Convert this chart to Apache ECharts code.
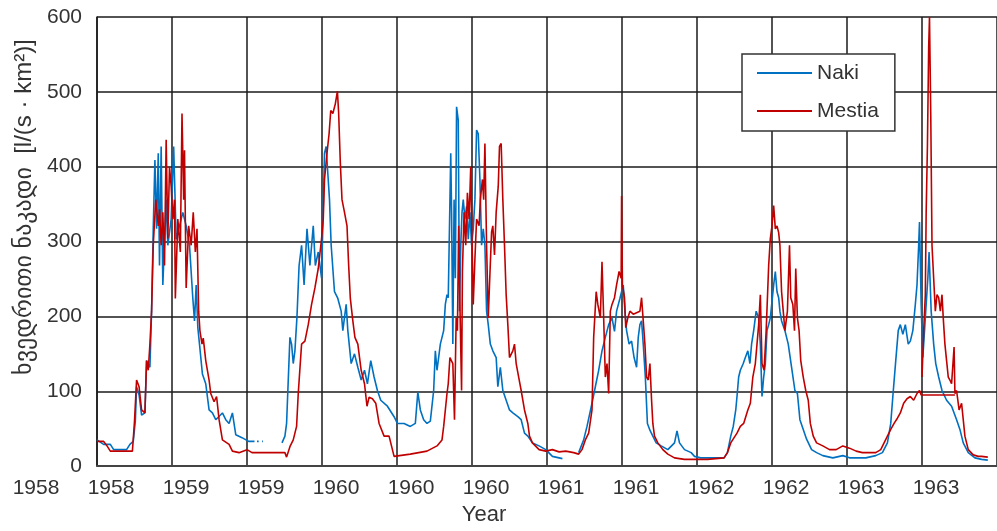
<!DOCTYPE html>
<html>
<head>
<meta charset="utf-8">
<script src="https://cdn.jsdelivr.net/npm/echarts@6/dist/echarts.min.js"></script>
<style>
html,body{margin:0;padding:0;background:#fff;}
#chart{width:997px;height:531px;}
</style>
</head>
<body>
<div id="chart"></div>
<script>
// x = days since start of record (1958), tick every 180 days
const xTickLabels = ['1958','1958','1959','1959','1960','1960','1960','1961','1961','1962','1962','1963','1963'];
const seriesNames = ['Naki', 'Mestia'];
const yTitle = 'ხვედრითი ნაკადი  [l/(s · km²)]';
const xTitle = 'Year';

const nakiData = [
[0,35],[16,29],[32,29],[40,22],[71,22],[79,29],[87,33],[92,60],[95,106],[101,95],[107,68],[115,71],[119,141],[127,132],[131,207],[135,317],[139,409],[143,317],[147,418],[150,268],[154,427],[158,242],[166,356],[170,295],[178,330],[184,427],[190,303],[198,321],[206,339],[214,321],[222,295],[230,224],[234,194],[238,242],[242,185],[246,163],[253,123],[261,110],[269,75],[277,71],[285,62],[301,71],[309,62],[317,57],[325,71],[333,42],[348,38],[364,33],[372,33],[378,33],[380,null],[384,33],[388,33],[390,null],[396,33],[398,33],[400,null],[404,33],[406,null],[412,33],[413,null],
[444,31],[451,40],[455,57],[463,172],[467,163],[471,137],[475,154],[480,200],[485,268],[491,295],[497,242],[504,317],[511,268],[519,321],[524,268],[531,286],[539,251],[546,418],[550,427],[554,391],[558,356],[562,295],[570,233],[578,224],[586,207],[590,181],[598,216],[602,181],[610,137],[618,150],[626,132],[634,115],[642,128],[649,110],[657,141],[665,119],[673,101],[681,88],[697,80],[713,66],
[721,57],[737,57],[752,53],[764,57],[770,99],[776,75],[784,62],[792,57],[800,60],[808,101],[812,154],[816,128],[824,163],[832,181],[836,216],[840,229],[843,225],[849,418],[851,339],[854,163],[857,356],[860,251],[863,480],[867,462],[870,207],[873,295],[876,339],[879,356],[883,330],[887,347],[891,303],[895,339],[899,295],[903,317],[907,356],[911,449],[915,444],[919,383],[923,295],[927,317],[931,295],[935,207],[939,189],[944,163],[950,154],[958,145],[962,106],[968,132],[974,101],[982,88],[990,75],[998,71],[1010,66],[1018,62],[1026,44],[1034,40],[1045,31],[1061,27],[1077,22],[1093,13],[1109,11],[1117,10],[1125,null],
[1156,18],[1168,35],[1176,53],[1188,84],[1196,106],[1204,128],[1212,154],[1220,172],[1228,189],[1236,198],[1242,180],[1247,207],[1255,224],[1263,242],[1267,207],[1271,181],[1277,163],[1283,167],[1289,145],[1295,132],[1299,172],[1303,189],[1307,194],[1311,163],[1316,119],[1321,57],[1327,48],[1334,40],[1342,31],[1354,27],[1370,22],[1386,31],[1392,47],[1398,31],[1410,22],[1426,18],
[1434,13],[1449,11],[1505,11],[1513,18],[1521,40],[1527,53],[1533,75],[1536,93],[1540,119],[1544,128],[1551,137],[1556,145],[1562,154],[1567,137],[1571,163],[1576,181],[1582,207],[1588,198],[1592,163],[1596,93],[1600,119],[1604,137],[1608,181],[1612,189],[1616,198],[1620,220],[1624,242],[1628,260],[1632,233],[1636,225],[1639,207],[1643,194],[1651,181],[1659,163],[1667,132],[1675,101],[1681,97],[1687,62],[1695,49],[1703,36],[1715,22],[1727,18],[1742,14],[1766,11],[1790,14],[1806,11],[1822,11],[1845,11],[1869,14],[1885,18],[1897,31],[1905,57],[1910,93],[1917,141],[1923,181],[1928,189],[1934,176],[1940,189],[1947,163],[1952,167],[1958,181],[1964,216],[1968,242],[1972,295],[1974,326],[1978,216],[1982,145],[1985,145],[1989,207],[1994,251],[1997,286],[2002,207],[2008,163],[2013,137],[2020,119],[2028,101],[2039,88],[2051,80],[2063,62],[2071,49],[2079,31],[2091,18],[2107,11],[2123,9],[2138,8]
];

const mestiaData = [
[0,33],[16,33],[24,27],[32,20],[85,20],[90,60],[95,115],[101,106],[107,75],[115,71],[119,141],[123,128],[127,163],[131,207],[135,295],[141,356],[147,321],[150,343],[154,295],[158,339],[162,268],[166,436],[170,304],[174,400],[178,374],[182,330],[186,356],[188,224],[194,330],[200,286],[204,471],[208,356],[210,422],[214,238],[220,321],[226,295],[231,339],[236,286],[240,317],[244,207],[247,181],[252,163],[255,171],[261,141],[269,115],[273,97],[281,86],[287,93],[293,62],[301,35],[317,29],[325,20],[341,18],[360,22],[372,18],[396,18],[444,18],[451,18],[455,12],[463,26],[471,35],[479,53],[483,97],[491,163],[499,167],[507,189],[515,216],[523,238],[531,264],[539,304],[543,330],[546,383],[552,418],[557,444],[561,475],[566,471],[572,484],[577,501],[580,471],[584,405],[588,356],[594,339],[600,321],[604,268],[608,224],[614,194],[619,172],[626,163],[634,128],[642,110],[648,80],[653,92],[661,90],[669,84],[677,57],[689,40],[701,40],[713,13],
[752,16],[792,20],[816,27],[828,35],[832,53],[836,75],[840,97],[843,110],[847,145],[854,137],[858,62],[862,198],[865,181],[868,321],[871,216],[875,101],[877,260],[881,339],[885,295],[889,365],[893,330],[897,400],[900,304],[903,216],[907,277],[911,330],[917,321],[920,356],[925,383],[928,356],[931,431],[935,295],[939,198],[942,242],[947,313],[950,321],[954,282],[958,339],[963,374],[966,427],[970,431],[974,356],[978,295],[982,229],[986,189],[990,145],[998,154],[1002,163],[1006,137],[1012,119],[1018,101],[1026,75],[1034,57],[1038,40],[1045,31],[1061,22],[1077,20],[1093,22],[1109,19],[1125,20],[1144,18],[1156,16],[1164,22],[1172,35],[1180,44],[1188,75],[1192,172],[1198,233],[1202,216],[1208,198],[1212,273],[1216,198],[1220,119],[1224,137],[1228,97],[1232,207],[1236,216],[1242,225],[1247,242],[1253,260],[1258,251],[1259,361],[1261,242],[1266,225],[1269,185],[1274,198],[1279,207],[1287,203],[1295,205],[1303,207],[1307,225],[1311,194],[1315,163],[1319,119],[1323,115],[1327,137],[1331,88],[1334,57],[1338,40],[1346,31],[1358,22],[1370,16],[1386,11],[1410,9],[1426,9],
[1441,9],[1465,9],[1505,11],[1513,18],[1521,31],[1529,38],[1536,44],[1544,53],[1552,57],[1562,75],[1568,84],[1574,119],[1580,137],[1584,163],[1588,189],[1592,229],[1596,137],[1601,128],[1606,181],[1612,268],[1616,304],[1620,321],[1624,348],[1628,317],[1632,321],[1636,312],[1639,295],[1643,233],[1647,207],[1651,181],[1657,207],[1662,295],[1665,225],[1670,216],[1674,181],[1677,264],[1681,198],[1685,181],[1689,141],[1695,119],[1701,101],[1707,88],[1712,57],[1719,40],[1727,31],[1742,27],[1758,22],[1774,22],[1790,27],[1806,24],[1822,20],[1837,18],[1853,18],[1869,18],[1881,22],[1889,31],[1897,40],[1905,49],[1913,57],[1921,64],[1928,71],[1936,84],[1944,90],[1952,93],[1960,88],[1968,97],[1974,101],[1978,95],[2059,95],[2059,null],
[1980,119],[1984,181],[1988,229],[1990,339],[1993,427],[1996,559],[1998,600],[2001,471],[2004,295],[2008,251],[2012,207],[2016,229],[2020,225],[2024,207],[2028,229],[2031,198],[2035,163],[2039,141],[2043,119],[2047,115],[2051,110],[2057,159],[2059,97],[2063,101],[2069,75],[2075,84],[2079,62],[2083,40],[2091,22],[2103,15],[2115,13],[2123,13],[2138,12]
];

const FONT = 'Liberation Sans, Arial, DejaVu Sans, sans-serif';
const chart = echarts.init(document.getElementById('chart'), null, {renderer: 'canvas'});
chart.setOption({
  animation: false,
  backgroundColor: '#ffffff',
  grid: {left: 97, right: -9, top: 17, bottom: 59, containLabel: false},
  legend: {
    orient: 'vertical',
    left: 742, top: 54,
    padding: [7, 16, 8, 15],
    itemGap: 14,
    itemWidth: 55, itemHeight: 2,
    icon: 'rect',
    backgroundColor: '#ffffff',
    borderColor: '#333333', borderWidth: 1.5, borderRadius: 0,
    textStyle: {fontFamily: FONT, fontSize: 21, color: '#333', lineHeight: 24},
    data: seriesNames
  },
  xAxis: {
    type: 'value', min: 0, max: 2160, interval: 180,
    name: xTitle, nameLocation: 'middle', nameGap: 36,
    nameTextStyle: {fontFamily: FONT, fontSize: 22, color: '#333', padding: [0, 126, 0, 0]},
    axisLine: {show: true, lineStyle: {color: '#444', width: 2}},
    axisTick: {show: false},
    axisLabel: {
      fontFamily: FONT, fontSize: 21, color: '#333', margin: 12,
      padding: [0, 122, 0, 0],
      formatter: function (v) { return xTickLabels[Math.round(v / 180)] || ''; }
    },
    splitLine: {show: true, lineStyle: {color: '#1a1a1a', width: 1.5}}
  },
  yAxis: {
    type: 'value', min: 0, max: 600, interval: 100,
    name: yTitle, nameLocation: 'middle', nameGap: 53,
    nameTextStyle: {fontFamily: FONT, fontSize: 24, color: '#333', padding: [0, 0, 0, 69]},
    axisLine: {show: true, lineStyle: {color: '#1a1a1a', width: 1.5}},
    axisTick: {show: false},
    axisLabel: {fontFamily: FONT, fontSize: 21, color: '#333', margin: 15},
    splitLine: {show: true, lineStyle: {color: '#1a1a1a', width: 1.5}}
  },
  series: [
    {name: seriesNames[0], type: 'line', data: nakiData, showSymbol: false, symbol: 'none',
     color: '#0070C0', lineStyle: {width: 1.6, color: '#0070C0'}, connectNulls: false, z: 2},
    {name: seriesNames[1], type: 'line', data: mestiaData, showSymbol: false, symbol: 'none',
     color: '#C00000', lineStyle: {width: 1.6, color: '#C00000'}, connectNulls: false, z: 3}
  ]
});
</script>
</body>
</html>
